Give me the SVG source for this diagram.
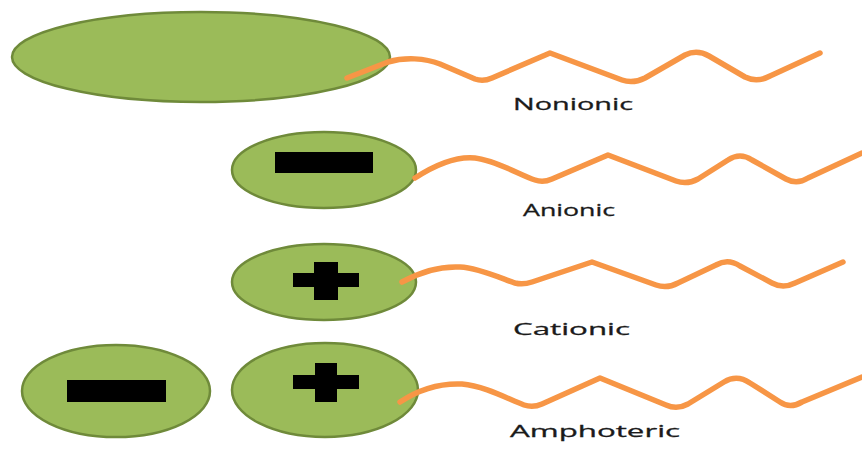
<svg xmlns="http://www.w3.org/2000/svg" width="862" height="450" viewBox="0 0 862 450">
<style>
.head{fill:#9BBB59;stroke:#6F8A3A;stroke-width:2.5}
.sign{fill:#000}
.tail{fill:none;stroke:#F79646;stroke-width:5.5;stroke-linejoin:round;stroke-linecap:round}
.lbl{font-family:"Open Sans","Liberation Sans",sans-serif;font-size:17px;fill:#1a1a1a;stroke:#1a1a1a;stroke-width:0.3}
</style>
<rect width="862" height="450" fill="#fff"/>
<g id="nonionic">
<ellipse class="head" cx="201" cy="57" rx="189" ry="45"/>
<text class="lbl" x="513" y="110" textLength="120" lengthAdjust="spacingAndGlyphs">Nonionic</text>
</g>
<g id="anionic">
<ellipse class="head" cx="324" cy="170" rx="92" ry="38"/>
<rect class="sign" x="275" y="152" width="98" height="21"/>
<text class="lbl" x="523" y="216" textLength="92" lengthAdjust="spacingAndGlyphs">Anionic</text>
</g>
<g id="cationic">
<ellipse class="head" cx="324" cy="282" rx="92" ry="38"/>
<rect class="sign" x="293" y="273" width="66" height="14"/>
<rect class="sign" x="314" y="262" width="24" height="38"/>
<text class="lbl" x="513" y="335" textLength="117" lengthAdjust="spacingAndGlyphs">Cationic</text>
</g>
<g id="amphoteric">
<ellipse class="head" cx="116" cy="391" rx="94" ry="46"/>
<rect class="sign" x="67" y="380" width="99" height="22"/>
<ellipse class="head" cx="325" cy="390" rx="93" ry="47"/>
<rect class="sign" x="293" y="375" width="66" height="14"/>
<rect class="sign" x="315" y="363" width="22" height="39"/>
<text class="lbl" x="510" y="437" textLength="170" lengthAdjust="spacingAndGlyphs">Amphoteric</text>
</g>
<g id="tails">
<path class="tail" d="M347,78 L388,62 C405,57 425,58 440,64 L475,79 Q483,82 492,78 L550,53 L622,80 Q633,84 645,78 L685,55 Q697,49 709,56 L745,77 Q757,83 770,76 L820,53"/>
<path class="tail" d="M415,178 C435,165 455,156 475,158 C495,160 520,175 535,180 Q543,183 552,179 L608,155 L676,181 Q687,185 698,179 L728,160 Q740,152 752,160 L786,179 Q797,185 808,178 L862,153"/>
<path class="tail" d="M402,282 C420,272 440,266 460,267 C480,268 505,280 515,283 Q523,285 532,282 L592,262 L656,285 Q667,289 678,283 L716,265 Q728,258 740,266 L772,283 Q783,289 795,283 L843,262"/>
<path class="tail" d="M400,402 C418,390 440,383 462,384 C485,386 510,400 524,405 Q533,408 542,404 L600,378 L666,405 Q677,410 688,404 L724,382 Q737,374 750,383 L780,402 Q790,409 802,402 L862,377"/>
</g>
</svg>
